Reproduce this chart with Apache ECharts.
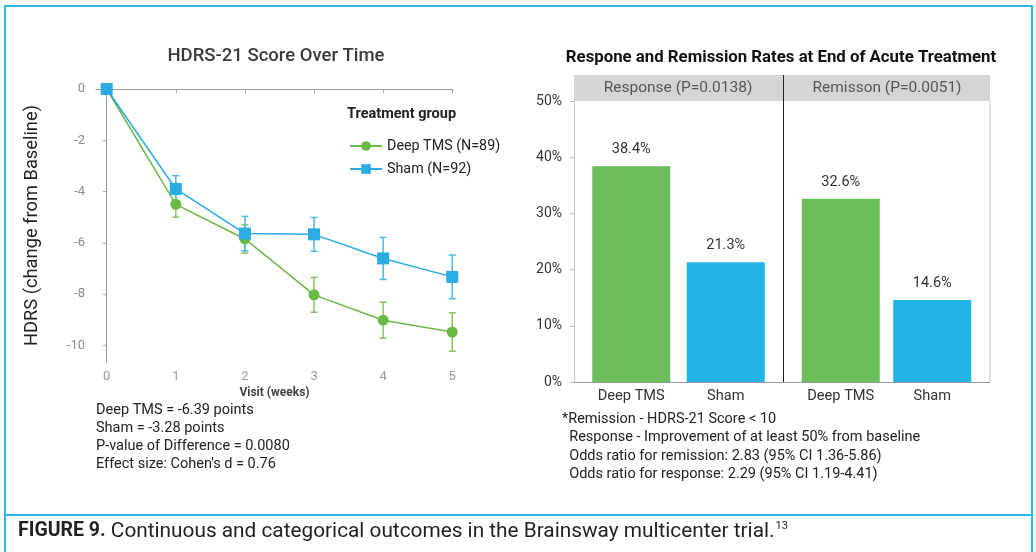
<!DOCTYPE html>
<html>
<head>
<meta charset="utf-8">
<script src="https://cdn.jsdelivr.net/npm/echarts@6/dist/echarts.min.js"></script>
<style>
    html, body { margin: 0; padding: 0; background: #fff; }
    #chart { width: 1036px; height: 552px; }
</style>
</head>
<body>
<div id="chart"></div>
<script>
// left chart: HDRS-21 change from baseline by visit
let visits = [0, 1, 2, 3, 4, 5];
let yTicks = [0, -2, -4, -6, -8, -10];
let deepTms = [0, -4.5, -5.85, -8.03, -9.02, -9.48];
let deepTmsErr = [0, 0.5, 0.55, 0.68, 0.7, 0.75];
let sham = [0, -3.9, -5.64, -5.67, -6.61, -7.33];
let shamErr = [0, 0.52, 0.67, 0.66, 0.82, 0.85];

// right chart: response / remission rates
let groups = ['Deep TMS', 'Sham'];
let responseRates = [38.4, 21.3];
let remissionRates = [32.6, 14.6];

let leftNotes = [
    'Deep TMS = -6.39 points',
    'Sham = -3.28 points',
    'P-value of Difference = 0.0080',
    "Effect size: Cohen's d = 0.76"
];
let rightNotes = [
    '*Remission - HDRS-21 Score < 10',
    '  Response - Improvement of at least 50% from baseline',
    '  Odds ratio for remission: 2.83 (95% CI 1.36-5.86)',
    '  Odds ratio for response: 2.29 (95% CI 1.19-4.41)'
];

const GREEN = '#6ab945';
const BLUE = '#2aabe2';
const BAR_GREEN = '#6bbd5c';
const BAR_BLUE = '#20b4e6';
const FRAME = '#2bb5e8';
const FONT = 'Roboto, "Noto Sans", sans-serif';

function pairs(ys) {
    return ys.map((y, i) => [visits[i], y]);
}
function errData(ys, errs) {
    let list = [];
    ys.forEach((y, i) => {
        if (errs[i] > 0) list.push([visits[i], y - errs[i], y + errs[i]]);
    });
    return list;
}
function errorBar(color) {
    return function (params, api) {
        let lo = api.coord([api.value(0), api.value(1)]);
        let hi = api.coord([api.value(0), api.value(2)]);
        let w = 3.5;
        let style = { stroke: color, lineWidth: 1.5 };
        return {
            type: 'group',
            children: [
                { type: 'line', shape: { x1: lo[0], y1: lo[1], x2: hi[0], y2: hi[1] }, style: style },
                { type: 'line', shape: { x1: lo[0] - w, y1: lo[1], x2: lo[0] + w, y2: lo[1] }, style: style },
                { type: 'line', shape: { x1: hi[0] - w, y1: hi[1], x2: hi[0] + w, y2: hi[1] }, style: style }
            ]
        };
    };
}

let noteLines = [];
leftNotes.forEach((t, i) => {
    noteLines.push({
        type: 'text', left: 96, top: 403 + i * 17.9,
        style: { text: t, font: '14.5px ' + FONT, fill: '#222' }
    });
});
rightNotes.forEach((t, i) => {
    noteLines.push({
        type: 'text', left: 562, top: 412 + i * 18.3,
        style: { text: t, font: '14.5px ' + FONT, fill: '#222' }
    });
});

let option = {
    animation: false,
    textStyle: { fontFamily: FONT },
    title: [
        {
            text: 'HDRS-21 Score Over Time',
            left: 271, top: 42, textAlign: 'center',
            textStyle: { fontSize: 18.5, fontWeight: 500, color: '#3a3a3a' }
        },
        {
            text: 'Respone and Remission Rates at End of Acute Treatment',
            left: 776, top: 44, textAlign: 'center',
            textStyle: { fontSize: 16.8, fontWeight: 'bold', color: '#111' }
        },
        {
            text: 'Treatment group',
            left: 347, top: 107, padding: 0,
            textStyle: { fontSize: 14.5, fontWeight: 'bold', color: '#222' }
        }
    ],
    legend: {
        data: ['Deep TMS (N=89)', 'Sham (N=92)'],
        orient: 'vertical',
        left: 344, top: 134,
        itemWidth: 32, itemHeight: 12, itemGap: 9,
        textStyle: { fontSize: 14.3, color: '#222' }
    },
    grid: [
        { left: 96, top: 89, width: 357, height: 273 },
        { left: 584, top: 101, width: 189, height: 281 },
        { left: 795, top: 101, width: 183, height: 281 }
    ],
    xAxis: [
        {
            type: 'value', gridIndex: 0,
            min: -0.155, max: 5.011,
            name: 'Visit (weeks)', nameLocation: 'middle', nameGap: 25,
            nameTextStyle: { fontSize: 12, fontWeight: 'bold', color: '#444' },
            axisLine: { lineStyle: { color: '#999' } },
            axisTick: { customValues: visits, length: 4, lineStyle: { color: '#aaa' } },
            axisLabel: { customValues: visits, margin: 8, fontSize: 13, color: '#999' },
            splitLine: { show: false }
        },
        {
            type: 'category', gridIndex: 1, data: groups,
            axisLine: { show: false },
            axisTick: { alignWithLabel: true, length: 4, lineStyle: { color: '#aaa' } },
            axisLabel: { margin: 7, fontSize: 14.6, color: '#333' }
        },
        {
            type: 'category', gridIndex: 2, data: groups,
            axisLine: { show: false },
            axisTick: { alignWithLabel: true, length: 4, lineStyle: { color: '#aaa' } },
            axisLabel: { margin: 7, fontSize: 14.6, color: '#333' }
        }
    ],
    yAxis: [
        {
            type: 'value', gridIndex: 0,
            min: -10.65, max: 0,
            name: 'HDRS (change from Baseline)', nameLocation: 'middle', nameGap: 55,
            nameTextStyle: { fontSize: 18.3, color: '#222' },
            axisLine: { show: true, lineStyle: { color: '#999' } },
            axisTick: { show: true, customValues: yTicks, length: 4, lineStyle: { color: '#aaa' } },
            axisLabel: { customValues: yTicks, margin: 11, fontSize: 13, color: '#8a8a8a' },
            splitLine: { show: false }
        },
        {
            type: 'value', gridIndex: 1,
            min: 0, max: 50, interval: 10, offset: 10,
            axisLine: { show: true, lineStyle: { color: '#c4c4c4' } },
            axisTick: { show: true, length: 4, lineStyle: { color: '#bbb' } },
            axisLabel: { formatter: '{value}%', margin: 12, fontSize: 14, color: '#333' },
            splitLine: { show: false }
        },
        {
            type: 'value', gridIndex: 2,
            min: 0, max: 50, show: false
        }
    ],
    series: [
        {
            type: 'custom', name: 'Deep TMS err',
            xAxisIndex: 0, yAxisIndex: 0,
            renderItem: errorBar('#86c463'),
            data: errData(deepTms, deepTmsErr), z: 2
        },
        {
            type: 'custom', name: 'Sham err',
            xAxisIndex: 0, yAxisIndex: 0,
            renderItem: errorBar('#4db8e6'),
            data: errData(sham, shamErr), z: 2
        },
        {
            type: 'line', name: 'Deep TMS (N=89)',
            xAxisIndex: 0, yAxisIndex: 0,
            data: pairs(deepTms),
            symbol: 'circle', symbolSize: 11,
            itemStyle: { color: GREEN },
            lineStyle: { color: GREEN, width: 1.5 },
            z: 3
        },
        {
            type: 'line', name: 'Sham (N=92)',
            xAxisIndex: 0, yAxisIndex: 0,
            data: pairs(sham),
            symbol: 'rect', symbolSize: 12,
            itemStyle: { color: BLUE },
            lineStyle: { color: BLUE, width: 1.5 },
            z: 4
        },
        {
            type: 'bar', name: 'Response',
            xAxisIndex: 1, yAxisIndex: 1,
            barWidth: 78,
            data: responseRates.map((v, i) => ({ value: v, itemStyle: { color: i === 0 ? BAR_GREEN : BAR_BLUE } })),
            label: { show: true, position: 'top', distance: 9, formatter: '{c}%', fontSize: 14.5, color: '#333' }
        },
        {
            type: 'bar', name: 'Remission',
            xAxisIndex: 2, yAxisIndex: 2,
            barWidth: 78,
            data: remissionRates.map((v, i) => ({ value: v, itemStyle: { color: i === 0 ? BAR_GREEN : BAR_BLUE } })),
            label: { show: true, position: 'top', distance: 9, formatter: '{c}%', fontSize: 14.5, color: '#333' }
        }
    ],
    graphic: [
        // outer frame and caption separator
        {
            type: 'rect', silent: true, z: 100,
            shape: { x: 5, y: 6, width: 1027, height: 560 },
            style: { fill: 'none', stroke: FRAME, lineWidth: 2 }
        },
        {
            type: 'line', silent: true, z: 100,
            shape: { x1: 5, y1: 515, x2: 1032, y2: 515 },
            style: { stroke: FRAME, lineWidth: 2 }
        },
        // facet strip
        {
            type: 'rect', silent: true,
            shape: { x: 574, y: 75, width: 416, height: 26 },
            style: { fill: '#d5d5d5' }
        },
        {
            type: 'text', silent: true, z: 5,
            style: { x: 678, y: 88, text: 'Response (P=0.0138)', font: '15.5px ' + FONT, fill: '#555', textAlign: 'center', textVerticalAlign: 'middle' }
        },
        {
            type: 'text', silent: true, z: 5,
            style: { x: 887, y: 88, text: 'Remisson (P=0.0051)', font: '15.5px ' + FONT, fill: '#555', textAlign: 'center', textVerticalAlign: 'middle' }
        },
        {
            type: 'line', silent: true,
            shape: { x1: 990, y1: 101, x2: 990, y2: 382 },
            style: { stroke: '#c4c4c4', lineWidth: 1 }
        },
        {
            type: 'line', silent: true,
            shape: { x1: 570, y1: 382.5, x2: 990, y2: 382.5 },
            style: { stroke: '#999', lineWidth: 1 }
        },
        {
            type: 'line', silent: true, z: 10,
            shape: { x1: 783.5, y1: 75, x2: 783.5, y2: 382 },
            style: { stroke: '#222', lineWidth: 1 }
        },
        ...noteLines,
        {
            type: 'text', left: 18, top: 521,
            style: {
                text: '{b|FIGURE 9.} Continuous and categorical outcomes in the Brainsway multicenter trial.{s|13}',
                font: '20.8px ' + FONT, fill: '#231f20',
                rich: {
                    b: { fontWeight: 'bold', fontSize: 19.5, fontFamily: FONT, fill: '#231f20' },
                    s: { fontSize: 11, fontFamily: FONT, fill: '#231f20', verticalAlign: 'top', padding: [0, 0, 10, 1] }
                }
            }
        }
    ]
};

let chart = echarts.init(document.getElementById('chart'));
chart.setOption(option);
window.addEventListener('resize', function () {
    chart.resize();
});
</script>
</body>
</html>
